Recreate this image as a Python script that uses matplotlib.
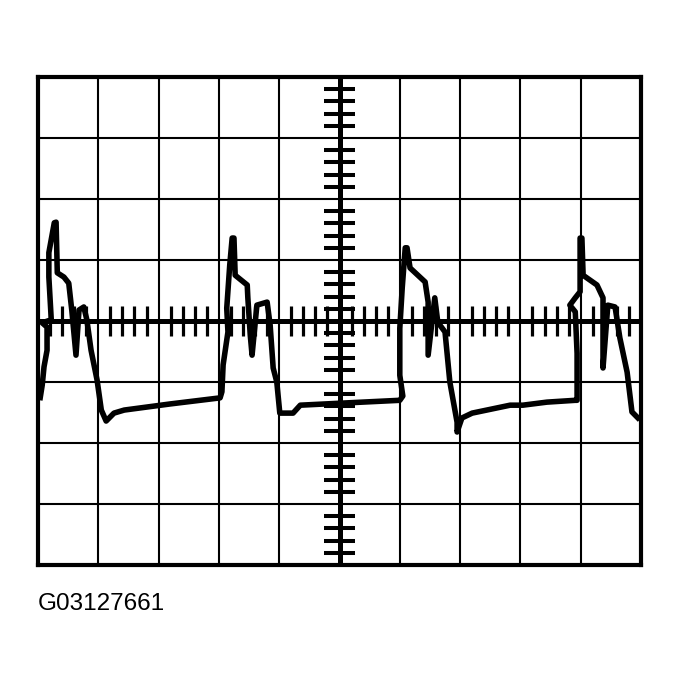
import numpy as np
import matplotlib
matplotlib.use('Agg')
import matplotlib.pyplot as plt

# graticule: 10 x 8 divisions, minor ticks every 0.2 div on the centre lines
n_cols = 10
n_rows = 8
minor_step = 0.2

# trace (time in div, amplitude in div from centre)
t_div = [0.03, 0.07, 0.10, 0.15, 0.15, 0.07, 0.22, 0.18, 0.18, 0.27, 0.30,
         0.32, 0.43, 0.51, 0.56, 0.63, 0.68, 0.76, 0.81, 0.88, 0.98, 1.05,
         1.13, 1.26, 1.43, 2.19, 3.02,
         3.05, 3.07, 3.15, 3.13, 3.18, 3.22, 3.25, 3.27, 3.47, 3.48, 3.52,
         3.55, 3.63, 3.80, 3.85, 3.90, 3.96, 4.01, 4.23, 4.35, 5.17, 6.00,
         6.05, 6.00, 6.00, 6.04, 6.09, 6.12, 6.17, 6.42, 6.47, 6.47, 6.58,
         6.63, 6.75, 6.83, 6.95, 6.95, 7.03, 7.20, 7.83, 8.04, 8.44, 8.91,
         8.94, 8.94, 8.91, 8.82, 8.91, 8.99, 8.99, 9.02, 9.04, 9.27, 9.37,
         9.37, 9.45, 9.57, 9.65, 9.77, 9.85, 9.98]
v_div = [-1.30, -1.05, -0.75, -0.48, -0.10, -0.03, 0.02, 0.72, 1.12, 1.61, 1.62,
         0.79, 0.72, 0.62, 0.18, -0.56, 0.18, 0.23, 0.02, -0.48, -0.97, -1.46,
         -1.64, -1.51, -1.46, -1.36, -1.26,
         -1.16, -0.72, -0.18, 0.21, 0.92, 1.36, 1.36, 0.75, 0.59, 0.38, -0.23,
         -0.56, 0.26, 0.31, -0.07, -0.77, -1.00, -1.51, -1.51, -1.38, -1.34, -1.30,
         -1.23, -0.89, -0.12, 0.54, 1.20, 1.20, 0.87, 0.64, 0.31, -0.56, 0.38,
         -0.02, -0.18, -1.00, -1.66, -1.82, -1.59, -1.51, -1.38, -1.38, -1.33, -1.30,
         -1.30, -0.53, 0.15, 0.26, 0.38, 0.48, 1.36, 1.36, 0.75, 0.59, 0.38,
         -0.77, 0.26, 0.23, -0.28, -0.84, -1.49, -1.62]

label = 'G03127661'


def main():
    fig = plt.figure(figsize=(6.79, 6.86), dpi=100)
    ax = fig.add_axes([38 / 679, 1 - 565 / 686, 603 / 679, 488 / 686])
    xmax, ymax = n_cols, n_rows / 2
    ax.set_xlim(0, xmax)
    ax.set_ylim(-ymax, ymax)
    ax.set_xticks([]); ax.set_yticks([])
    for s in ax.spines.values():
        s.set_linewidth(3.0)
        s.set_color('black')

    # major grid
    for x in range(1, n_cols):
        if x != n_cols // 2:
            ax.axvline(x, color='black', lw=1.5)
    for y in range(-n_rows // 2 + 1, n_rows // 2):
        if y != 0:
            ax.axhline(y, color='black', lw=1.5)
    ax.axvline(xmax / 2, color='black', lw=3.6)
    ax.axhline(0, color='black', lw=3.6)

    # minor ticks on centre lines
    hx = 0.26
    hy = 0.25
    for x in np.arange(minor_step, xmax, minor_step):
        if abs(x - round(x)) < 1e-6:
            continue
        ax.plot([x, x], [-hy, hy], color='black', lw=2.3, solid_capstyle='butt')
    for y in np.arange(-ymax + minor_step, ymax, minor_step):
        if abs(y - round(y)) < 1e-6:
            continue
        ax.plot([xmax / 2 - hx, xmax / 2 + hx], [y, y], color='black', lw=2.9,
                solid_capstyle='butt')

    # trace
    ax.plot(t_div, v_div, color='black', lw=4.0, solid_joinstyle='round',
            solid_capstyle='butt')

    fig.text(38 / 679, 1 - 604 / 686, label, fontsize=17.5,
             family='Liberation Sans', va='center', ha='left')
    fig.savefig('out.png', dpi=100)


if __name__ == '__main__':
    main()
